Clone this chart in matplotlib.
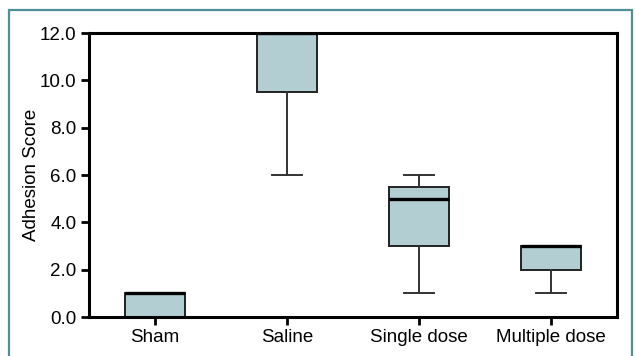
import matplotlib
matplotlib.use("Agg")
from matplotlib import pyplot as plt
from matplotlib.patches import Rectangle

groups = ["Sham", "Saline", "Single dose", "Multiple dose"]
q1 = [0.0, 9.5, 3.0, 2.0]
med = [1.0, 12.0, 5.0, 3.0]
q3 = [1.0, 12.0, 5.5, 3.0]
wlo = [0.0, 6.0, 1.0, 1.0]
whi = [1.0, 12.0, 6.0, 3.0]
yticks = [0, 2, 4, 6, 8, 10, 12]

plt.rcParams['font.family'] = ['Liberation Sans', 'DejaVu Sans']

fig = plt.figure(figsize=(6.36, 3.56), dpi=100)
W, H = 636, 356
ax = fig.add_axes([89 / W, 1 - 317 / H, (617 - 89) / W, (317 - 33) / H])

# teal frame round the figure
fig.patches.append(Rectangle((9 / W, -0.05), (632 - 9) / W, 1.05 - 10 / H,
                             transform=fig.transFigure, fill=False,
                             edgecolor='#4f8f96', linewidth=1.6, zorder=0))

stats = []
for i, g in enumerate(groups):
    stats.append(dict(label=g, q1=q1[i], med=med[i], q3=q3[i],
                      whislo=wlo[i], whishi=whi[i], fliers=[]))

ax.bxp(stats, positions=[1, 2, 3, 4], widths=0.45, capwidths=0.22,
       patch_artist=True, showfliers=False,
       boxprops=dict(facecolor='#b3ced3', edgecolor='#222222', linewidth=1.4),
       medianprops=dict(color='black', linewidth=2.4),
       whiskerprops=dict(color='#333333', linewidth=1.4),
       capprops=dict(color='#333333', linewidth=1.4))

ax.set_xlim(0.5, 4.5)
ax.set_ylim(0, 12)
ax.set_yticks(yticks)
ax.set_yticklabels([f"{v:.1f}" for v in yticks])
ax.set_xticks([1, 2, 3, 4])
ax.set_xticklabels(groups)
ax.tick_params(axis='both', direction='out', length=6, width=2,
               labelsize=13.5, colors='black', pad=3)
for s in ax.spines.values():
    s.set_linewidth(2.2)
    s.set_color('black')
ax.set_ylabel("Adhesion Score", fontsize=13.5, labelpad=0)

fig.savefig("out.png", dpi=100)
